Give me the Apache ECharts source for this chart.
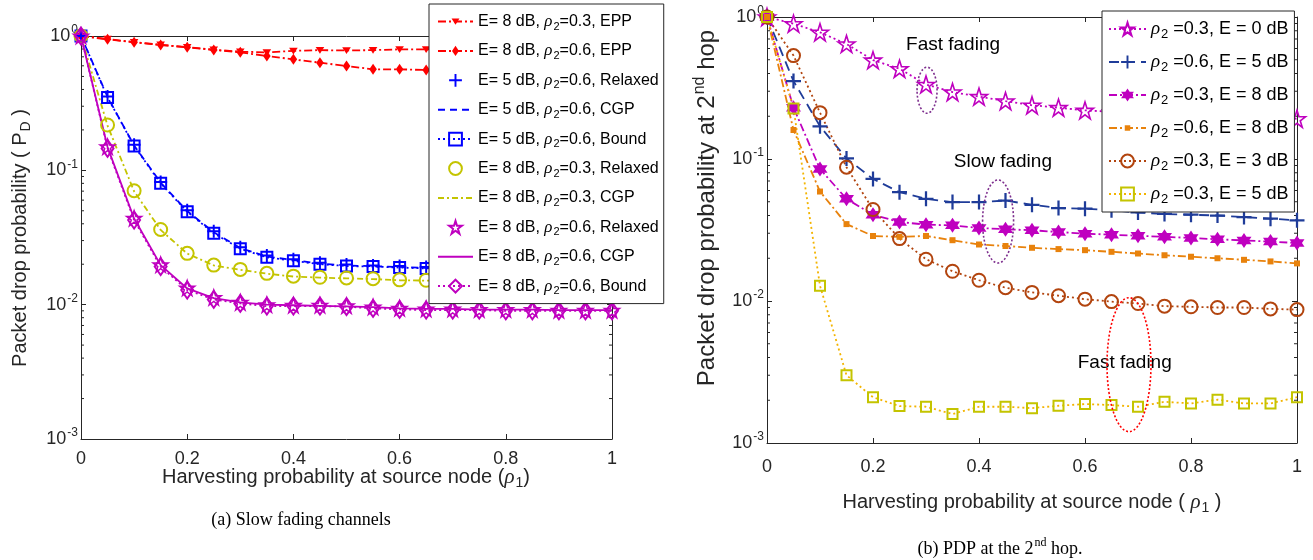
<!DOCTYPE html>
<html>
<head>
<meta charset="utf-8">
<script src="https://cdn.jsdelivr.net/npm/echarts@6/dist/echarts.min.js"></script>
<style>
html, body { margin: 0; padding: 0; background: #fff; }
#main { width: 1313px; height: 560px; }
</style>
</head>
<body>
<div id="main"></div>
<script>
// harvesting probability at source node (rho_1)
var rho1 = [0, 0.05, 0.1, 0.15, 0.2, 0.25, 0.3, 0.35, 0.4, 0.45, 0.5, 0.55, 0.6, 0.65, 0.7, 0.75, 0.8, 0.85, 0.9, 0.95, 1];

// (a) slow fading channels
var slowEpp03 = [1, 0.95, 0.9, 0.86, 0.825, 0.79, 0.765, 0.755, 0.775, 0.785, 0.78, 0.785, 0.795, 0.795, 0.795, 0.795, 0.795, 0.795, 0.795, 0.795, 0.795];
var slowEpp06 = [1, 0.944, 0.897, 0.857, 0.823, 0.787, 0.756, 0.71, 0.67, 0.633, 0.598, 0.565, 0.565, 0.558, 0.56, 0.56, 0.56, 0.56, 0.56, 0.56, 0.56];
var slowE5Relaxed = [1, 0.355, 0.155, 0.082, 0.0505, 0.0352, 0.0268, 0.0232, 0.0218, 0.0205, 0.0199, 0.0196, 0.0194, 0.0191, 0.019, 0.019, 0.0189, 0.0189, 0.0188, 0.0188, 0.0188];
var slowE5Cgp = [1, 0.352, 0.153, 0.081, 0.0498, 0.0346, 0.0264, 0.0228, 0.0215, 0.0202, 0.0196, 0.0193, 0.0191, 0.0188, 0.0187, 0.0187, 0.0186, 0.0186, 0.0186, 0.0185, 0.0185];
var slowE5Bound = [1, 0.349, 0.152, 0.08, 0.0492, 0.034, 0.0261, 0.0225, 0.0212, 0.02, 0.0194, 0.0192, 0.0189, 0.0186, 0.0186, 0.0186, 0.0185, 0.0185, 0.0185, 0.0185, 0.0185];
var slowE8p03Relaxed = [1, 0.2175, 0.0705, 0.0363, 0.0241, 0.0197, 0.0183, 0.0171, 0.0163, 0.016, 0.0158, 0.0156, 0.0153, 0.0152, 0.0152, 0.0151, 0.0151, 0.015, 0.015, 0.015, 0.015];
var slowE8p03Cgp = [1, 0.215, 0.0698, 0.036, 0.024, 0.0196, 0.0182, 0.017, 0.0162, 0.0159, 0.0157, 0.0155, 0.0152, 0.0151, 0.0151, 0.015, 0.015, 0.015, 0.0149, 0.0149, 0.0149];
var slowE8p06Relaxed = [1, 0.15, 0.044, 0.0198, 0.0133, 0.0113, 0.0104, 0.01, 0.0099, 0.0099, 0.0098, 0.0096, 0.0094, 0.0093, 0.0093, 0.0092, 0.0092, 0.0092, 0.0091, 0.0091, 0.0091];
var slowE8p06Cgp = [1, 0.149, 0.0438, 0.0197, 0.0132, 0.0112, 0.0104, 0.01, 0.0099, 0.0098, 0.0097, 0.0096, 0.0094, 0.0093, 0.0093, 0.0092, 0.0092, 0.0092, 0.0091, 0.0091, 0.0091];
var slowE8p06Bound = [1, 0.1457, 0.0426, 0.0192, 0.01285, 0.01094, 0.01022, 0.00976, 0.00976, 0.00976, 0.00966, 0.00938, 0.00922, 0.00912, 0.0091, 0.0091, 0.009, 0.009, 0.009, 0.009, 0.009];

// (b) PDP at the 2nd hop
var hopR03E0 = [1, 0.897, 0.78, 0.646, 0.497, 0.432, 0.335, 0.296, 0.275, 0.256, 0.239, 0.23, 0.22, 0.215, 0.21, 0.206, 0.203, 0.2, 0.197, 0.194, 0.192];
var hopR06E5 = [1, 0.354, 0.17, 0.101, 0.0724, 0.0584, 0.0524, 0.0497, 0.0497, 0.051, 0.0476, 0.0451, 0.0447, 0.0435, 0.042, 0.041, 0.0405, 0.04, 0.039, 0.038, 0.037];
var hopR03E8 = [1, 0.23, 0.085, 0.0524, 0.0405, 0.036, 0.0345, 0.0341, 0.0327, 0.032, 0.0315, 0.0306, 0.0298, 0.0293, 0.0288, 0.0283, 0.0278, 0.0272, 0.0267, 0.0262, 0.0256];
var hopR06E8 = [1, 0.16, 0.059, 0.0348, 0.0287, 0.0283, 0.0287, 0.0268, 0.025, 0.0244, 0.0237, 0.0232, 0.0228, 0.0222, 0.0216, 0.021, 0.0205, 0.02, 0.0195, 0.019, 0.0184];
var hopR03E3 = [1, 0.535, 0.212, 0.0875, 0.0441, 0.0275, 0.0197, 0.0162, 0.014, 0.0124, 0.0115, 0.0109, 0.0103, 0.0099, 0.0096, 0.0092, 0.0091, 0.009, 0.009, 0.0088, 0.0087];
var hopR03E5 = [1, 0.227, 0.0128, 0.003, 0.0021, 0.00182, 0.0018, 0.0016, 0.0018, 0.0018, 0.00176, 0.00183, 0.00188, 0.00185, 0.0018, 0.00195, 0.0019, 0.00202, 0.0019, 0.0019, 0.0021];

var leftNames = ['E= 8 dB, ρ2=0.3, EPP', 'E= 8 dB, ρ2=0.6, EPP', 'E= 5 dB, ρ2=0.6, Relaxed', 'E= 5 dB, ρ2=0.6, CGP',
  'E= 5 dB, ρ2=0.6, Bound', 'E= 8 dB, ρ2=0.3, Relaxed', 'E= 8 dB, ρ2=0.3, CGP', 'E= 8 dB, ρ2=0.6, Relaxed',
  'E= 8 dB, ρ2=0.6, CGP', 'E= 8 dB, ρ2=0.6, Bound'];
var rightNames = ['ρ2 =0.3, E = 0 dB', 'ρ2 =0.6, E = 5 dB', 'ρ2 =0.3, E = 8 dB', 'ρ2 =0.6, E = 8 dB', 'ρ2 =0.3, E = 3 dB', 'ρ2 =0.3, E = 5 dB'];

var FONT = "'Liberation Sans', Arial, sans-serif";
var SERIF = "'Liberation Serif', 'Times New Roman', serif";
var TXT = '#262626';
var RED = '#ff0000', BLUE = '#0000ff', OLIVE = '#c4c400', MAG = '#bf00bf';
var NAVY = '#1f3c99', ORANGE = '#e8820c', BROWN = '#b2440e', GOLD = '#f3b400', PURPLE = '#7e2f8e';

// marker shapes
function starPath(n, ratio) {
  var pts = [];
  for (var i = 0; i < 2 * n; i++) {
    var r = i % 2 ? ratio : 1;
    var a = -Math.PI / 2 + i * Math.PI / n;
    pts.push((r * Math.cos(a) * 10).toFixed(2) + ',' + (r * Math.sin(a) * 10).toFixed(2));
  }
  return 'path://M' + pts.join('L') + 'Z';
}
var PENTA = starPath(5, 0.382);
var HEXA = starPath(6, 0.577);
var PLUS = 'path://M-1.2,-8H1.2V-1.2H8V1.2H1.2V8H-1.2V1.2H-8V-1.2H-1.2Z';
// small marks padded with empty moveTo's, so the legend keeps them small too
var TRI_DOWN = 'path://M-7,-7M7,7M-4.3,-3.2L4.3,-3.2L0,3.6Z';
var DIAM_SM = 'path://M-7,-7M7,7M0,-5.5L3.8,0L0,5.5L-3.8,0Z';
var SQ_SM = 'path://M-7,-7M7,7M-3,-3H3V3H-3Z';

var DOT = [2, 3], DASH = [10, 6], DASHDOT = [8, 3, 2, 3];

function mk(name, grid, ys, o) {
  var lw = o.lw === undefined ? 1.8 : o.lw;
  return {
    name: name, type: 'line', xAxisIndex: grid * 2, yAxisIndex: grid * 2,
    data: ys.map(function (v, i) { return [rho1[i], v]; }),
    symbol: o.symbol || 'circle', symbolSize: o.size || 6, showSymbol: !!o.symbol,
    lineStyle: { color: o.line || o.color, width: lw, type: o.dash || 'solid', opacity: lw ? 1 : 0, cap: 'butt' },
    itemStyle: { color: o.fill || 'transparent', borderColor: o.color, borderWidth: o.bw || 0 },
    emphasis: { disabled: true }, silent: true, animation: false
  };
}

var series = [
  mk(leftNames[0], 0, slowEpp03, { color: RED, symbol: TRI_DOWN, size: 14, fill: RED, dash: DASHDOT }),
  mk(leftNames[1], 0, slowEpp06, { color: RED, symbol: DIAM_SM, size: 14, fill: RED, dash: DASHDOT }),
  mk(leftNames[2], 0, slowE5Relaxed, { color: BLUE, symbol: PLUS, size: 13, fill: BLUE, lw: 0 }),
  mk(leftNames[3], 0, slowE5Cgp, { color: BLUE, dash: [7, 5] }),
  mk(leftNames[4], 0, slowE5Bound, { color: BLUE, symbol: 'rect', size: 11, bw: 2, dash: DOT }),
  mk(leftNames[5], 0, slowE8p03Relaxed, { color: OLIVE, symbol: 'circle', size: 13, bw: 2, lw: 0 }),
  mk(leftNames[6], 0, slowE8p03Cgp, { color: OLIVE, dash: [6, 3, 2, 3] }),
  mk(leftNames[7], 0, slowE8p06Relaxed, { color: MAG, symbol: PENTA, size: 15, bw: 1.5, lw: 0 }),
  mk(leftNames[8], 0, slowE8p06Cgp, { color: MAG }),
  mk(leftNames[9], 0, slowE8p06Bound, { color: MAG, symbol: 'diamond', size: [12, 17], bw: 2, dash: DOT }),

  mk(rightNames[0], 1, hopR03E0, { color: MAG, symbol: PENTA, size: 17, bw: 1.6, dash: DOT }),
  mk(rightNames[1], 1, hopR06E5, { color: NAVY, symbol: PLUS, size: 15, fill: NAVY, dash: DASH }),
  mk(rightNames[2], 1, hopR03E8, { color: MAG, symbol: HEXA, size: 15, fill: MAG, dash: DASHDOT }),
  mk(rightNames[3], 1, hopR06E8, { color: ORANGE, symbol: SQ_SM, size: 14, fill: ORANGE, dash: DASHDOT }),
  mk(rightNames[4], 1, hopR03E3, { color: BROWN, symbol: 'circle', size: 13, bw: 2, dash: DOT }),
  mk(rightNames[5], 1, hopR03E5, { color: OLIVE, line: GOLD, symbol: 'rect', size: 10, bw: 2, dash: DOT })
];

function xAx(grid, top, margin) {
  return {
    type: 'value', gridIndex: grid, position: top ? 'top' : 'bottom', min: 0, max: 1, interval: 0.2,
    axisLine: { show: true, onZero: false, lineStyle: { color: TXT, width: 1 } },
    axisTick: { show: true, inside: true, length: 5, lineStyle: { color: TXT } },
    axisLabel: {
      show: !top, margin: margin, fontSize: 18, fontFamily: FONT, color: TXT, hideOverlap: false,
      showMinLabel: true, showMaxLabel: true,
      formatter: function (v) { return Math.abs(v) < 1e-9 ? '0' : Math.abs(v - 1) < 1e-9 ? '1' : v.toFixed(1); }
    },
    splitLine: { show: false }
  };
}
function yAx(grid, right) {
  return {
    type: 'log', logBase: 10, gridIndex: grid, position: right ? 'right' : 'left', min: 0.001, max: 1, splitNumber: 3,
    axisLine: { show: true, onZero: false, lineStyle: { color: TXT, width: 1 } },
    axisTick: { show: true, inside: true, length: 5, lineStyle: { color: TXT } },
    axisLabel: {
      show: !right, margin: 3, hideOverlap: false, showMinLabel: true, showMaxLabel: true,
      formatter: function (v) { return '{b|10}{e|' + Math.round(Math.log10(v)) + '}'; },
      rich: {
        b: { fontSize: 18, fontFamily: FONT, color: TXT, lineHeight: 24, verticalAlign: 'middle' },
        e: { fontSize: 12, fontFamily: FONT, color: TXT, lineHeight: 12, padding: [0, 0, 12, 1], verticalAlign: 'middle' }
      }
    },
    splitLine: { show: false }, minorTick: { show: false }
  };
}

function richName(name) {
  var i = name.indexOf('ρ');
  var s = i > 0 ? '{t|' + name.slice(0, i) + '}' : '';
  return s + '{r|ρ}{s|' + name.charAt(i + 1) + '}{t|' + name.slice(i + 2) + '}';
}
function legendRich(fs, lh) {
  return {
    t: { fontSize: fs, fontFamily: FONT, color: '#000', lineHeight: lh, verticalAlign: 'middle' },
    r: { fontSize: fs + 1, fontFamily: SERIF, fontStyle: 'italic', color: '#000', lineHeight: lh, verticalAlign: 'middle' },
    s: { fontSize: Math.round(fs * 0.7), fontFamily: FONT, color: '#000', lineHeight: 11, padding: [lh - 11, 0, 0, 1], verticalAlign: 'middle' }
  };
}

var GL = [81, 36, 531, 403];   // left plot: left, top, width, height
var GR = [767, 17, 530, 426];  // right plot

var chart = echarts.init(document.getElementById('main'));
chart.setOption({
  animation: false,
  backgroundColor: '#fff',
  grid: [
    { left: GL[0], top: GL[1], width: GL[2], height: GL[3], containLabel: false, outerBoundsMode: 'none' },
    { left: GR[0], top: GR[1], width: GR[2], height: GR[3], containLabel: false, outerBoundsMode: 'none' }
  ],
  xAxis: [xAx(0, false, 11), xAx(0, true, 0), xAx(1, false, 15), xAx(1, true, 0)],
  yAxis: [yAx(0, false), yAx(0, true), yAx(1, false), yAx(1, true)],
  legend: [
    {
      data: leftNames, orient: 'vertical', left: 429, top: 4, itemWidth: 35, itemHeight: 16, itemGap: 8.4,
      padding: [7, 5, 7, 8], backgroundColor: '#fff', borderColor: TXT, borderWidth: 1, borderRadius: 0,
      selectedMode: false, formatter: richName, textStyle: { rich: legendRich(16, 21) }
    },
    {
      data: rightNames, orient: 'vertical', left: 1102, top: 11, itemWidth: 37, itemHeight: 16, itemGap: 9,
      padding: [6, 6, 6, 6], backgroundColor: '#fff', borderColor: TXT, borderWidth: 1, borderRadius: 0,
      selectedMode: false, formatter: richName, textStyle: { rich: legendRich(18, 22) }
    }
  ],
  series: series
});

// decorations: log minor ticks, axis titles, captions, annotations
var g = [];
[[0, GL], [2, GR]].forEach(function (a) {
  var x0 = a[1][0], x1 = a[1][0] + a[1][2];
  [0.001, 0.01, 0.1].forEach(function (d) {
    for (var k = 2; k <= 9; k++) {
      var y = chart.convertToPixel({ yAxisIndex: a[0] }, k * d);
      g.push({ type: 'line', silent: true, shape: { x1: x0, y1: y, x2: x0 + 3, y2: y }, style: { stroke: TXT, lineWidth: 1 } });
      g.push({ type: 'line', silent: true, shape: { x1: x1 - 3, y1: y, x2: x1, y2: y }, style: { stroke: TXT, lineWidth: 1 } });
    }
  });
});

var titleRich = {
  t: { fontSize: 20, fontFamily: FONT, fill: TXT, lineHeight: 26, verticalAlign: 'middle' },
  T: { fontSize: 24, fontFamily: FONT, fill: TXT, lineHeight: 30, verticalAlign: 'middle' },
  r: { fontSize: 21, fontFamily: SERIF, fontStyle: 'italic', fill: TXT, lineHeight: 26, verticalAlign: 'middle' },
  s: { fontSize: 14, fontFamily: FONT, fill: TXT, lineHeight: 14, padding: [12, 0, 0, 1], verticalAlign: 'middle' },
  P: { fontSize: 16, fontFamily: FONT, fill: TXT, lineHeight: 16, padding: [0, 0, 14, 1], verticalAlign: 'middle' },
  c: { fontSize: 18, fontFamily: SERIF, fill: '#000', lineHeight: 24, verticalAlign: 'middle' },
  q: { fontSize: 12, fontFamily: SERIF, fill: '#000', lineHeight: 12, padding: [0, 0, 12, 1], verticalAlign: 'middle' },
  n: { fontSize: 19, fontFamily: FONT, fill: '#000', lineHeight: 24, verticalAlign: 'middle' }
};
function txt(x, y, text, rot) {
  return { type: 'text', silent: true, x: x, y: y, rotation: rot || 0, z: 100,
    style: { text: text, rich: titleRich, align: 'center', verticalAlign: 'middle' } };
}
g.push(txt(20, 238, '{t|Packet drop probability ( P}{s|D}{t| )}', Math.PI / 2));
g.push(txt(707, 208, '{T|Packet drop probability at 2}{P|nd}{T| hop}', Math.PI / 2));
g.push(txt(346, 477, '{t|Harvesting probability at source node (}{r|ρ}{s|1}{t|)}'));
g.push(txt(1032, 502, '{t|Harvesting probability at source node ( }{r|ρ}{s|1}{t| )}'));
g.push(txt(301, 520, '{c|(a) Slow fading channels}'));
g.push(txt(1000, 549, '{c|(b) PDP at the 2}{q|nd}{c| hop.}'));

// annotations on (b), placed in data coordinates
var notes = [
  { text: 'Fast fading', at: [0.351, 0.64] },
  { text: 'Slow fading', at: [0.445, 0.0953] },
  { text: 'Fast fading', at: [0.675, 0.00366] }
];
notes.forEach(function (n) {
  var p = chart.convertToPixel({ xAxisIndex: 2, yAxisIndex: 2 }, n.at);
  g.push(txt(p[0], p[1], '{n|' + n.text + '}'));
});
var rings = [
  { at: [0.302, 0.305], rx: 10, ry: 23, color: PURPLE },
  { at: [0.436, 0.0363], rx: 15.5, ry: 41.5, color: PURPLE },
  { at: [0.683, 0.00356], rx: 22, ry: 67, color: RED }
];
rings.forEach(function (r) {
  var p = chart.convertToPixel({ xAxisIndex: 2, yAxisIndex: 2 }, r.at);
  g.push({ type: 'ellipse', silent: true, z: 100, shape: { cx: p[0], cy: p[1], rx: r.rx, ry: r.ry },
    style: { fill: 'none', stroke: r.color, lineWidth: 1.6, lineDash: [2, 2] } });
});

chart.setOption({ graphic: { elements: g } });
</script>
</body>
</html>
